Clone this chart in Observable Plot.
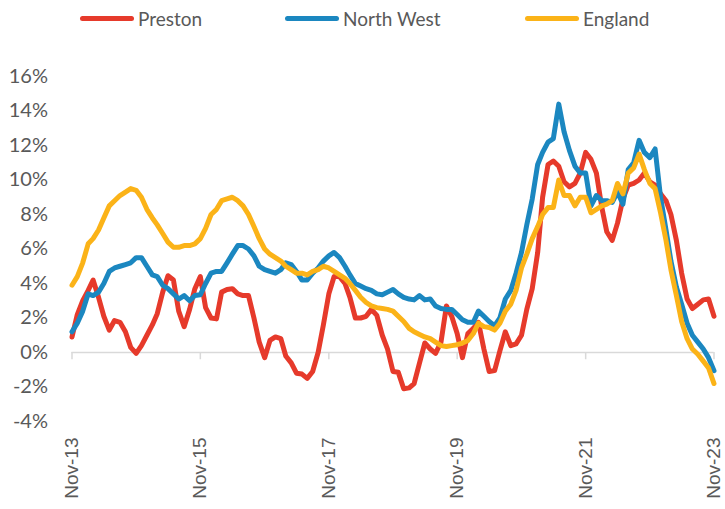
<!DOCTYPE html>
<html><head><meta charset="utf-8">
<script src="https://cdn.jsdelivr.net/npm/d3@7"></script>
<script src="https://cdn.jsdelivr.net/npm/@observablehq/plot@0.6"></script>
<style>
body{margin:0;background:#fff;width:725px;height:509px;overflow:hidden;font-family:Lato,sans-serif}
#legend{position:relative;height:36px;width:725px}
.item{position:absolute;top:0;height:36px;display:flex;align-items:center}
.sw{width:54px;height:5px;border-radius:3px;margin-right:4px}
.lab{font-size:19px;color:#595959;font-family:Lato,sans-serif}
#chart svg{display:block}
</style></head><body>
<div id="legend"></div>
<div id="chart"></div>
<script>
const seriesNames = ["Preston", "North West", "England"];
const colors = ["#e63a2b", "#1b87c0", "#fbb318"];
const tickLabels = ["Nov-13", "Nov-15", "Nov-17", "Nov-19", "Nov-21", "Nov-23"];
const yTicks = [-4, -2, 0, 2, 4, 6, 8, 10, 12, 14, 16];

const preston = [
0.9,2.2,3.0,3.6,4.2,3.2,2.1,1.3,1.85,1.75,1.2,0.3,-0.05,0.4,1.0,1.6,2.25,3.5,4.45,4.2,
2.4,1.5,2.5,3.7,4.4,2.6,2.0,1.95,3.5,3.65,3.7,3.4,3.3,3.3,2.0,0.6,-0.3,0.7,0.9,0.8,
-0.2,-0.6,-1.2,-1.25,-1.5,-1.1,0.0,1.6,3.4,4.4,4.4,4.0,3.2,2.0,2.0,2.1,2.5,2.15,1.0,0.2,
-1.1,-1.15,-2.1,-2.05,-1.8,-0.6,0.55,0.2,-0.05,0.6,2.7,2.1,1.1,-0.3,1.1,1.4,1.75,0.2,-1.1,-1.05,
0.1,1.2,0.4,0.5,1.0,2.5,3.7,5.8,9.0,10.9,11.1,10.8,9.9,9.6,9.8,10.4,11.6,11.2,10.4,8.4,
7.0,6.5,7.5,8.9,9.7,9.8,10.0,10.4,9.9,9.7,9.2,8.8,8.0,6.5,4.6,3.1,2.55,2.8,3.05,3.1,
2.1];
const northWest = [
1.2,1.7,2.4,3.4,3.3,3.5,4.0,4.7,4.9,5.0,5.1,5.2,5.5,5.5,5.0,4.5,4.4,3.9,3.7,3.4,
3.1,3.3,3.0,3.3,3.35,4.0,4.6,4.7,4.7,5.2,5.7,6.2,6.2,6.0,5.6,5.0,4.8,4.7,4.6,4.8,
5.2,5.1,4.7,4.2,4.2,4.6,4.9,5.3,5.6,5.8,5.5,5.0,4.5,4.0,3.85,3.7,3.6,3.4,3.35,3.5,
3.65,3.4,3.2,3.1,3.05,3.3,3.05,3.1,2.7,2.55,2.5,2.5,2.2,1.9,1.75,1.75,2.4,2.1,1.8,1.55,
2.0,3.1,3.6,4.6,5.8,7.4,8.9,10.9,11.6,12.2,12.4,14.4,12.8,11.7,10.8,10.4,10.4,8.5,9.1,8.8,
8.8,8.7,9.3,8.6,10.6,11.0,12.3,11.6,11.3,11.8,9.0,7.1,5.3,3.8,2.8,1.7,1.0,0.6,0.2,-0.3,
-1.05];
const england = [
3.9,4.4,5.2,6.3,6.6,7.1,7.8,8.5,8.8,9.1,9.3,9.5,9.4,9.0,8.3,7.8,7.4,6.9,6.4,6.1,
6.1,6.2,6.2,6.3,6.6,7.2,8.0,8.3,8.8,8.9,9.0,8.8,8.5,8.0,7.3,6.6,6.0,5.7,5.5,5.3,
5.0,4.8,4.6,4.6,4.5,4.7,4.8,5.0,4.9,4.7,4.5,4.3,4.0,3.6,3.2,2.9,2.7,2.6,2.55,2.5,
2.4,2.1,1.8,1.4,1.2,1.05,0.9,0.8,0.6,0.4,0.35,0.4,0.45,0.55,0.7,1.1,1.7,1.5,1.45,1.3,
1.7,2.4,2.8,3.6,4.9,5.7,6.6,7.3,8.0,8.4,8.4,10.0,9.1,9.1,8.5,9.0,9.0,8.1,8.3,8.5,
8.6,8.8,9.8,9.2,10.4,10.7,11.5,10.6,9.8,9.5,8.1,6.5,4.8,3.3,1.8,0.8,0.2,-0.1,-0.5,-0.9,
-1.8];

const seriesValues = [preston, northWest, england];
const parse = d3.utcParse("%b-%y");
const start = parse(tickLabels[0]);
const months = preston.map((_, i) => d3.utcMonth.offset(start, i));
const tickDates = tickLabels.map(parse);

const rows = [];
seriesNames.forEach((s, k) => seriesValues[k].forEach((v, i) => rows.push({date: months[i], value: v, series: s})));

// legend
const legendPos = [80, 285, 525];
const legend = document.getElementById("legend");
seriesNames.forEach((s, k) => {
  const it = document.createElement("div");
  it.className = "item";
  it.style.left = legendPos[k] + "px";
  it.innerHTML = `<div class="sw" style="background:${colors[k]}"></div><span class="lab">${s}</span>`;
  legend.appendChild(it);
});

const first = months[0], last = months[months.length - 1];
const plot = Plot.plot({
  width: 725, height: 473,
  marginTop: 40, marginBottom: 88, marginLeft: 71.5, marginRight: 11.5,
  style: {fontFamily: "Liberation Sans, Arial, sans-serif", color: "#595959", background: "#fff"},
  x: {type: "utc", domain: [first, last]},
  y: {domain: [-4, 16]},
  color: {domain: seriesNames, range: colors},
  marks: [
    Plot.ruleY([0], {x1: () => first, x2: () => last, stroke: "#d9d9d9", strokeWidth: 1.5}),
    Plot.ruleX(tickDates, {x: d => d, y1: 0, y2: -0.42, stroke: "#d9d9d9", strokeWidth: 1.5}),
    Plot.axisY({ticks: yTicks, tickFormat: d => d + "%", tickSize: 0, tickPadding: 24, fontSize: 20, fontFamily: "Lato, sans-serif", label: null}),
    Plot.axisX({ticks: tickDates, tickFormat: d3.utcFormat("%b-%y"), tickRotate: -90, tickSize: 0, tickPadding: 16, fontSize: 19, label: null}),
    Plot.lineY(rows, {x: "date", y: "value", stroke: "series", z: "series", strokeWidth: 5, strokeLinejoin: "round", strokeLinecap: "round"})
  ]
});
document.getElementById("chart").appendChild(plot);
</script>
</body></html>
